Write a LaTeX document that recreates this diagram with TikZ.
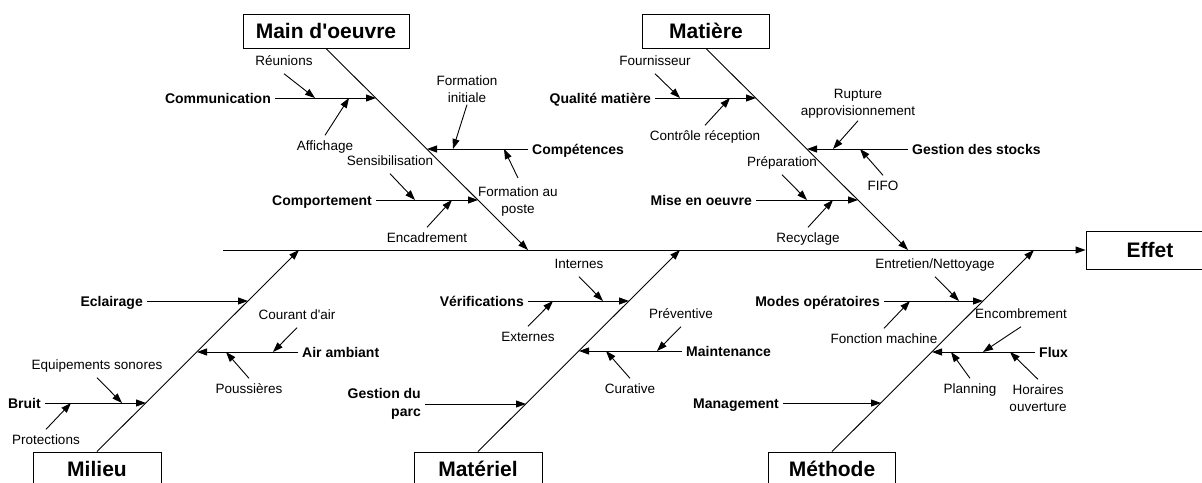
\documentclass[tikz,border=0pt]{standalone}
\usepackage{fontspec}
\setmainfont{Liberation Sans}
\usetikzlibrary{arrows.meta}

\tikzset{
  titlebox/.style={draw, line width=0.9pt, font=\fontsize{21}{24}\selectfont\bfseries, minimum height=34pt, inner sep=0pt},
  cause/.style={font=\fontsize{14}{18}\selectfont\bfseries, inner xsep=4pt, inner ysep=0pt, text height=10pt, text depth=0pt},
  causetwo/.style={font=\fontsize{14}{18}\selectfont\bfseries, inner xsep=4pt, inner ysep=0pt, align=right},
  twig/.style={font=\fontsize{13.5}{17}\selectfont, inner xsep=0pt, inner ysep=5pt, text height=10pt, text depth=3pt},
  twigtwo/.style={font=\fontsize{13.5}{17}\selectfont, inner xsep=0pt, inner ysep=2pt, align=center},
  bone/.style={line width=0.9pt, -{Triangle[length=10pt,width=7pt]}},
}

\begin{document}
\begin{tikzpicture}[x=1pt, y=-1pt]
    \useasboundingbox (0,0) rectangle (1202,482);

    \node[titlebox, minimum width=166pt] (mo) at (326,31) {Main d\textquotesingle oeuvre};
    \node[titlebox, minimum width=127pt] (mat) at (706,31) {Matière};
    \node[titlebox, minimum width=128pt, minimum height=38pt] (eff) at (1150,250) {Effet};
    \node[titlebox, minimum width=128pt] (mil) at (97,469) {Milieu};
    \node[titlebox, minimum width=128pt] (mtl) at (478,469) {Matériel};
    \node[titlebox, minimum width=127pt] (mth) at (832,469) {Méthode};

    \coordinate (tail) at (223,250);
    \draw[bone] (tail) -- (eff.west);

    \coordinate (moT) at (528,250);
    \coordinate (matT) at (908,250);
    \coordinate (milT) at (299,250);
    \coordinate (mtlT) at (680,250);
    \coordinate (mthT) at (1034,250);
    \draw[bone] (mo.south) -- (moT);
    \draw[bone] (mat.south) -- (matT);
    \draw[bone] (mil.north) -- (milT);
    \draw[bone] (mtl.north) -- (mtlT);
    \draw[bone] (mth.north) -- (mthT);

    % Main d'oeuvre
    \node[cause, anchor=east] (com) at (275,98) {Communication};
    \node[cause, anchor=west] (comp) at (528,149) {Compétences};
    \node[cause, anchor=east] (cpt) at (376,200) {Comportement};
    \coordinate (comT) at (376,98);
    \coordinate (compT) at (427,149);
    \coordinate (cptT) at (478,200);
    \draw[bone] (com.east) -- (comT);
    \draw[bone] (comp.west) -- (compT);
    \draw[bone] (cpt.east) -- (cptT);

    \node[twig] (reu) at (284,62) {Réunions};
    \node[twig] (aff) at (325,147) {Affichage};
    \node[twigtwo] (fin) at (467,89) {Formation\\initiale};
    \node[twigtwo, inner ysep=9pt] (fap) at (518,202) {Formation au\\poste};
    \node[twig] (sens) at (390,162) {Sensibilisation};
    \node[twig] (enc) at (427,239) {Encadrement};
    \coordinate (reuT) at (315,98);
    \coordinate (affT) at (349,98);
    \coordinate (finT) at (453,149);
    \coordinate (fapT) at (504,149);
    \coordinate (sensT) at (415,200);
    \coordinate (encT) at (452,200);
    \draw[bone] (reu.south) -- (reuT);
    \draw[bone] (aff.north) -- (affT);
    \draw[bone] (fin.south) -- (finT);
    \draw[bone] (fap.north) -- (fapT);
    \draw[bone] (sens.south) -- (sensT);
    \draw[bone] (enc.north) -- (encT);

    % Matiere
    \node[cause, anchor=east] (qual) at (655,98) {Qualité matière};
    \node[cause, anchor=west] (gest) at (908,149) {Gestion des stocks};
    \node[cause, anchor=east] (mise) at (756,200) {Mise en oeuvre};
    \coordinate (qualT) at (756,98);
    \coordinate (gestT) at (807,149);
    \coordinate (miseT) at (858,200);
    \draw[bone] (qual.east) -- (qualT);
    \draw[bone] (gest.west) -- (gestT);
    \draw[bone] (mise.east) -- (miseT);

    \node[twig] (fou) at (655,62) {Fournisseur};
    \node[twig] (ctr) at (705,137) {Contrôle réception};
    \node[twigtwo] (rup) at (858,104) {Rupture\\approvisionnement};
    \node[twig] (fifo) at (883,187) {FIFO};
    \node[twig] (prep) at (782,163) {Préparation};
    \node[twig] (rec) at (808,239) {Recyclage};
    \coordinate (fouT) at (680,98);
    \coordinate (ctrT) at (730,98);
    \coordinate (rupT) at (833,149);
    \coordinate (fifoT) at (860,149);
    \coordinate (prepT) at (807,200);
    \coordinate (recT) at (833,200);
    \draw[bone] (fou.south) -- (fouT);
    \draw[bone] (ctr.north) -- (ctrT);
    \draw[bone] (rup.south) -- (rupT);
    \draw[bone] (fifo.north) -- (fifoT);
    \draw[bone] (prep.south) -- (prepT);
    \draw[bone] (rec.north) -- (recT);

    % Milieu
    \node[cause, anchor=east] (ecl) at (147,301) {Eclairage};
    \node[cause, anchor=west] (air) at (298,352) {Air ambiant};
    \node[cause, anchor=east] (bru) at (45,403) {Bruit};
    \coordinate (eclT) at (248,301);
    \coordinate (airT) at (197,352);
    \coordinate (bruT) at (146,403);
    \draw[bone] (ecl.east) -- (eclT);
    \draw[bone] (air.west) -- (airT);
    \draw[bone] (bru.east) -- (bruT);

    \node[twig] (cou) at (297,316) {Courant d\textquotesingle air};
    \node[twig] (pou) at (249,390) {Poussières};
    \node[twig] (equ) at (97,366) {Equipements sonores};
    \node[twig] (pro) at (46,441) {Protections};
    \coordinate (couT) at (273,352);
    \coordinate (pouT) at (226,352);
    \coordinate (equT) at (122,403);
    \coordinate (proT) at (71,403);
    \draw[bone] (cou.south) -- (couT);
    \draw[bone] (pou.north) -- (pouT);
    \draw[bone] (equ.south) -- (equT);
    \draw[bone] (pro.north) -- (proT);

    % Materiel
    \node[cause, anchor=east] (ver) at (528,301) {Vérifications};
    \node[cause, anchor=west] (mai) at (682,351) {Maintenance};
    \node[causetwo, anchor=east] (par) at (425,404) {Gestion du\\parc};
    \coordinate (verT) at (629,301);
    \coordinate (maiT) at (579,351);
    \coordinate (parT) at (526,404);
    \draw[bone] (ver.east) -- (verT);
    \draw[bone] (mai.west) -- (maiT);
    \draw[bone] (par.east) -- (parT);

    \node[twig] (int) at (579,265) {Internes};
    \node[twig] (ext) at (528,338) {Externes};
    \node[twig] (prv) at (681,315) {Préventive};
    \node[twig] (cur) at (630,390) {Curative};
    \coordinate (intT) at (603,301);
    \coordinate (extT) at (553,301);
    \coordinate (prvT) at (657,351);
    \coordinate (curT) at (606,351);
    \draw[bone] (int.south) -- (intT);
    \draw[bone] (ext.north) -- (extT);
    \draw[bone] (prv.south) -- (prvT);
    \draw[bone] (cur.north) -- (curT);

    % Methode
    \node[cause, anchor=east] (mod) at (884,301) {Modes opératoires};
    \node[cause, anchor=west] (flu) at (1035,352) {Flux};
    \node[cause, anchor=east] (man) at (783,403) {Management};
    \coordinate (modT) at (983,301);
    \coordinate (fluT) at (932,352);
    \coordinate (manT) at (881,403);
    \draw[bone] (mod.east) -- (modT);
    \draw[bone] (flu.west) -- (fluT);
    \draw[bone] (man.east) -- (manT);

    \node[twig] (ent) at (935,265) {Entretien/Nettoyage};
    \node[twig] (fon) at (884,340) {Fonction machine};
    \node[twig] (enco) at (1021,315) {Encombrement};
    \node[twig] (pla) at (970,390) {Planning};
    \node[twigtwo, inner ysep=5pt] (hor) at (1038,398) {Horaires\\ouverture};
    \coordinate (entT) at (959,301);
    \coordinate (fonT) at (910,301);
    \coordinate (encoT) at (983,352);
    \coordinate (plaT) at (951,352);
    \coordinate (horT) at (1010,352);
    \draw[bone] (ent.south) -- (entT);
    \draw[bone] (fon.north) -- (fonT);
    \draw[bone] (enco.south) -- (encoT);
    \draw[bone] (pla.north) -- (plaT);
    \draw[bone] (hor.north) -- (horT);
\end{tikzpicture}
\end{document}
